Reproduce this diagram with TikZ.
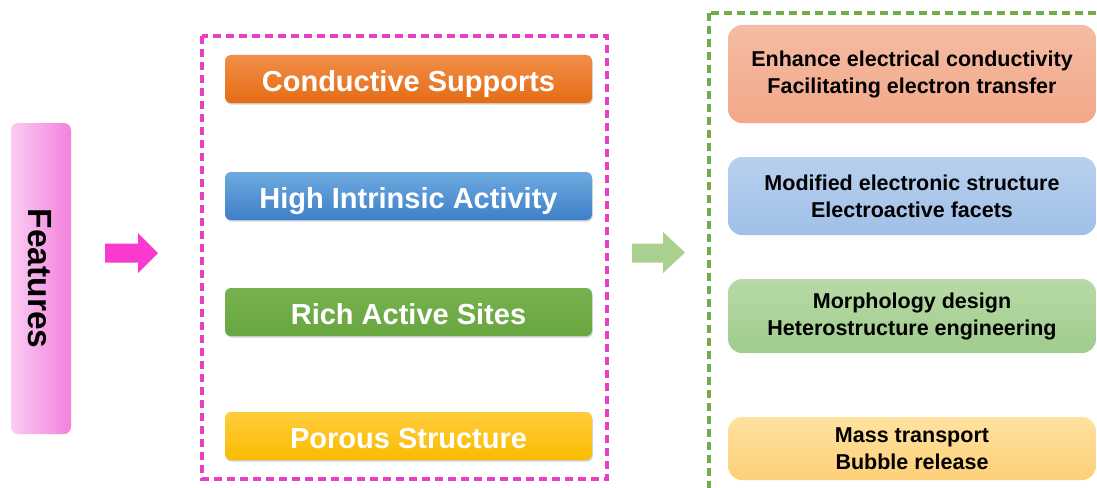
\documentclass[tikz,border=0pt]{standalone}
\usepackage{fontspec}
\setmainfont{Liberation Sans}
\usetikzlibrary{shadows}
\definecolor{pinkline}{RGB}{232,62,196}
\definecolor{pinkarrow}{RGB}{250,58,206}
\definecolor{greenline}{RGB}{112,173,71}
\definecolor{greenarrow}{RGB}{169,208,142}
\definecolor{featL}{RGB}{251,204,242}
\definecolor{featR}{RGB}{244,128,222}
\definecolor{orTop}{RGB}{242,142,72}
\definecolor{orBot}{RGB}{228,108,20}
\definecolor{blTop}{RGB}{110,170,224}
\definecolor{blBot}{RGB}{62,128,200}
\definecolor{grTop}{RGB}{118,178,78}
\definecolor{grBot}{RGB}{104,166,64}
\definecolor{yeTop}{RGB}{255,204,60}
\definecolor{yeBot}{RGB}{250,188,0}
\definecolor{r1Top}{RGB}{245,188,164}
\definecolor{r1Bot}{RGB}{242,168,136}
\definecolor{r2Top}{RGB}{184,208,238}
\definecolor{r2Bot}{RGB}{160,192,232}
\definecolor{r3Top}{RGB}{184,218,166}
\definecolor{r3Bot}{RGB}{160,204,140}
\definecolor{r4Top}{RGB}{255,226,160}
\definecolor{r4Bot}{RGB}{254,208,120}
\tikzset{
  featbox/.style={rounded corners=6pt, minimum width=367pt, minimum height=48pt,
    inner sep=0pt, text height=25pt, text depth=0pt, text=white,
    font=\fontsize{29}{32}\selectfont\bfseries,
    drop shadow={shadow xshift=0.8pt, shadow yshift=-1.6pt, opacity=0.35}},
  effbox/.style={rounded corners=14pt, minimum width=368pt, inner sep=0pt,
    align=center, text=black, font=\fontsize{21.5}{27}\selectfont\bfseries},
  dashframe/.style={line width=3.2pt, dash pattern=on 8pt off 5pt}
}
\begin{document}
\begin{tikzpicture}[x=1pt,y=-1pt]
\useasboundingbox (0,0) rectangle (1097,487);
\fill[white] (0,0) rectangle (1097,487);

% title bar on the left
\node[rounded corners=7pt, minimum width=60pt, minimum height=311pt, inner sep=0pt,
      left color=featL, right color=featR] (feat) at (41,278.5) {};
\node[rotate=-90, font=\fontsize{33.5}{36}\selectfont\bfseries] (feattext) at (39.5,278.5) {Features};

% block arrows
\fill[pinkarrow] (105,243.5) -- (138,243.5) -- (138,233) -- (158,253) -- (138,273)
  -- (138,262.5) -- (105,262.5) -- cycle;
\fill[greenarrow] (632,243.5) -- (663,243.5) -- (663,232) -- (685,252.5) -- (663,273)
  -- (663,262.5) -- (632,262.5) -- cycle;

% feature column
\draw[pinkline, dashframe] (202,36) rectangle (607,479);
\node[featbox, top color=orTop, bottom color=orBot] (cs) at (408.5,79) {Conductive Supports};
\node[featbox, top color=blTop, bottom color=blBot] (hia) at (408.5,196) {High Intrinsic Activity};
\node[featbox, top color=grTop, bottom color=grBot] (ras) at (408.5,312) {Rich Active Sites};
\node[featbox, top color=yeTop, bottom color=yeBot] (ps) at (408.5,436) {Porous Structure};

% effect column
\begin{scope}
\clip (0,0) rectangle (1097,487);
\draw[greenline, dashframe] (709,13) rectangle (1130,520);
\end{scope}
\node[effbox, minimum height=98pt, top color=r1Top, bottom color=r1Bot] (e1) at (912,74)
  {Enhance electrical conductivity\\Facilitating electron transfer};
\node[effbox, minimum height=78pt, top color=r2Top, bottom color=r2Bot] (e2) at (912,196)
  {Modified electronic structure\\Electroactive facets};
\node[effbox, minimum height=74pt, top color=r3Top, bottom color=r3Bot] (e3) at (912,316)
  {Morphology design\\Heterostructure engineering};
\node[effbox, minimum height=63pt, top color=r4Top, bottom color=r4Bot] (e4) at (912,448.5)
  {Mass transport\\Bubble release};
\end{tikzpicture}
\end{document}
